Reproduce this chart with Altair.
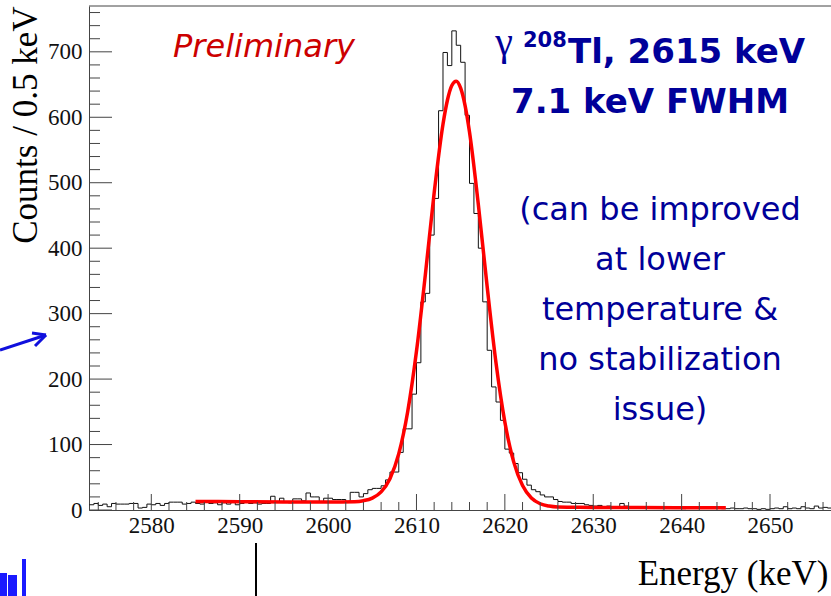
import altair as alt
import pandas as pd

# ---------------- data ----------------
bin_start = 2573.0
bin_width = 0.5
counts = [
    8, 10, 7, 9, 5, 10, 9, 9, 9, 10,
    10, 3, 4, 9, 8, 10, 7, 10, 12, 12,
    12, 9, 10, 12, 10, 9, 12, 10, 11, 8,
    11, 9, 12, 8, 10, 12, 10, 11, 9, 10,
    10, 21, 12, 18, 12, 11, 17, 17, 14, 26,
    20, 20, 12, 18, 18, 16, 16, 16, 12, 27,
    27, 20, 25, 31, 33, 33, 37, 46,
    58, 58, 88, 124, 124, 177, 225, 318, 331, 420,
    476, 610, 699, 679, 732, 710, 684, 603, 499, 453,
    400, 318, 244, 188, 165, 137, 93, 87, 71, 57,
    47, 38, 31, 28,
    23, 20, 20, 16, 13, 12, 12, 10, 10, 10,
    8, 7, 6, 7, 5, 6, 5, 4, 10, 6,
    5, 4, 5, 4, 3, 5, 4, 3, 4, 5,
    3, 4, 2, 4, 3, 4, 3, 4, 3, 4,
    3, 2, 2, 3, 2, 2, 3, 2, 2, 1,
    2, 1, 2, 3, 2, 5, 2, 3, 2, 5,
    3, 2, 6, 3, 4, 3, 2,
]

fit_energy = [2585, 2590, 2595, 2600, 2603, 2604, 2605, 2606, 2607, 2608, 2609,
              2610, 2611, 2612, 2613, 2613.5, 2614, 2614.5, 2615, 2615.5, 2616,
              2617, 2618, 2619, 2620, 2621, 2622, 2623, 2624, 2625, 2626, 2628,
              2630, 2635, 2640, 2645]
fit_counts = [13, 12.7, 12.4, 12.2, 12.7, 14.2, 18.2, 27.8, 47.9, 86.1, 149.7,
              242.4, 358.9, 484.3, 589.4, 626, 648.5, 655, 644.4, 617.9, 577.5,
              466.6, 341, 224.6, 134.3, 73.5, 37.3, 18.4, 9.6, 6.0, 4.6, 4.2,
              4.0, 3.8, 3.6, 3.5]

x_major = [2580, 2590, 2600, 2610, 2620, 2630, 2640, 2650]
x_minor = [2574, 2576, 2578, 2582, 2584, 2586, 2588, 2592, 2594, 2596, 2598,
           2602, 2604, 2606, 2608, 2612, 2614, 2616, 2618, 2622, 2624, 2626,
           2628, 2632, 2634, 2636, 2638, 2642, 2644, 2646, 2648, 2652, 2654, 2656]
y_major = [0, 100, 200, 300, 400, 500, 600, 700]
y_minor = [20, 40, 60, 80, 120, 140, 160, 180, 220, 240, 260, 280, 320, 340,
           360, 380, 420, 440, 460, 480, 520, 540, 560, 580, 620, 640, 660,
           680, 720, 740, 760]

# ---------------- layout ----------------
W, H = 742, 504
AX = "#444444"
SERIF = "Liberation Serif"
SANS = "DejaVu Sans"
NAVY = "#000099"

edges = [bin_start + bin_width * i for i in range(len(counts))]
hist_df = pd.DataFrame({"e": edges + [edges[-1] + bin_width],
                        "c": counts + [counts[-1]]})
fit_df = pd.DataFrame({"e": fit_energy, "c": fit_counts})

xscale = alt.Scale(domain=[2572.95, 2656.9], nice=False, zero=False)
yscale = alt.Scale(domain=[0, 770], nice=False, zero=True)

xaxis = alt.Axis(values=x_major, format="d", ticks=False, grid=False,
                 domainColor=AX, domainWidth=1, labelFont=SERIF, labelFontSize=23,
                 labelColor="#111111", labelPadding=4, labelFlush=False,
                 labelOverlap=False, title="Energy (keV)", titleFont=SERIF,
                 titleFontSize=35, titleFontWeight="normal", titleColor="#000000",
                 titleAnchor="end", titleAlign="right", titleX=739, titleY=74,
                 titleBaseline="alphabetic")
yaxis = alt.Axis(values=y_major, format="d", ticks=False, grid=False,
                 domainColor=AX, domainWidth=1, labelFont=SERIF, labelFontSize=23,
                 labelColor="#111111", labelPadding=7, labelFlush=False,
                 labelOverlap=False, title="Counts / 0.5 keV", titleFont=SERIF,
                 titleFontSize=35, titleFontWeight="normal", titleColor="#000000",
                 titleAngle=270, titleAlign="right", titleBaseline="middle",
                 titleX=-64, titleY=0)

hist = alt.Chart(hist_df).mark_line(
    interpolate="step-after", color="#111111", strokeWidth=1, clip=True
).encode(x=alt.X("e:Q", scale=xscale, axis=xaxis),
         y=alt.Y("c:Q", scale=yscale, axis=yaxis))

fit = alt.Chart(fit_df).mark_line(
    interpolate="monotone", color="#ff0000", strokeWidth=3.5
).encode(x=alt.X("e:Q", scale=xscale, axis=xaxis),
         y=alt.Y("c:Q", scale=yscale, axis=yaxis))


def xticks(vals, length):
    return alt.Chart(pd.DataFrame({"e": vals})).mark_rule(
        color=AX, strokeWidth=1).encode(
        x=alt.X("e:Q", scale=xscale, axis=xaxis),
        y=alt.value(H), y2=alt.value(H - length))


def yticks(vals, length):
    return alt.Chart(pd.DataFrame({"c": vals})).mark_rule(
        color=AX, strokeWidth=1).encode(
        y=alt.Y("c:Q", scale=yscale, axis=yaxis),
        x=alt.value(0), x2=alt.value(length))


one = pd.DataFrame({"k": [0]})

top_border = alt.Chart(one).mark_rule(color=AX, strokeWidth=1).encode(
    x=alt.value(0), x2=alt.value(W), y=alt.value(0))


def label(text, x, y, size, color, font=SANS, weight="normal", style="normal",
          align="center", baseline="alphabetic"):
    return alt.Chart(one).mark_text(
        text=text, font=font, fontSize=size, fontWeight=weight, fontStyle=style,
        color=color, align=align, baseline=baseline
    ).encode(x=alt.value(x), y=alt.value(y))


texts = [
    label("Preliminary", 175, 51, 32, "#cc0000", style="italic"),
    label("γ", 415, 49, 40, NAVY, font=SERIF),
    label("208", 434, 41, 21, NAVY, weight="bold", align="left"),
    label("Tl, 2615 keV", 479, 57, 34, NAVY, weight="bold", align="left"),
    label("7.1 keV FWHM", 561, 107, 34, NAVY, weight="bold"),
]
notes = ["(can be improved", "at lower", "temperature &", "no stabilization", "issue)"]
for i, line in enumerate(notes):
    texts.append(label(line, 571, 214 + 50 * i, 32, NAVY))


def seg(x1, y1, x2, y2, color, width):
    return alt.Chart(one).mark_rule(color=color, strokeWidth=width).encode(
        x=alt.value(x1), y=alt.value(y1), x2=alt.value(x2), y2=alt.value(y2))


deco = [
    seg(-89, 344, -43, 329, "#1010dd", 3),
    seg(-43, 329, -57, 327, "#1010dd", 3),
    seg(-43, 329, -54, 340, "#1010dd", 3),
    seg(-85.5, 567, -85.5, 590, "#1a1aff", 7),
    seg(-76.5, 569, -76.5, 590, "#1a1aff", 9),
    seg(-65, 553, -65, 590, "#1a1aff", 4),
    seg(167, 537, 167, 590, "#000000", 2),
]

chart = alt.layer(
    hist, fit,
    xticks(x_minor, 8), xticks(x_major, 16),
    yticks(y_minor, 11), yticks(y_major, 23),
    top_border, *texts, *deco
).properties(
    width=W, height=H,
    autosize=alt.AutoSizeParams(type="none"),
    padding={"left": 89, "top": 6, "right": 0, "bottom": 86},
    background="white",
).configure_view(stroke=None)

chart.save("out.html", embed_options={"renderer": "svg", "actions": False})
